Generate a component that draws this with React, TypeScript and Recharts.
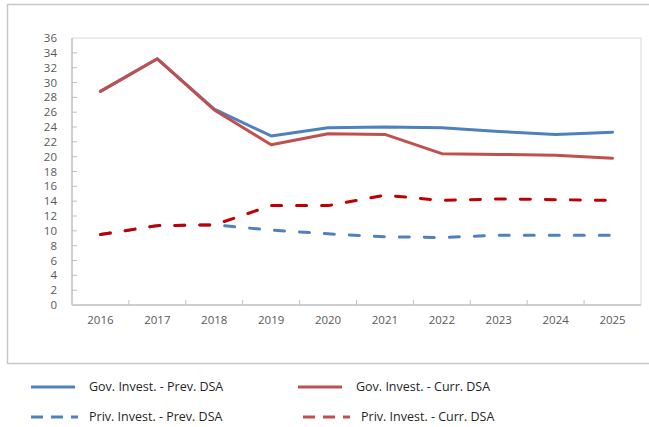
import React from "react";
import { LineChart, Line, XAxis, YAxis, ReferenceLine } from "recharts";

const years = [2016, 2017, 2018, 2019, 2020, 2021, 2022, 2023, 2024, 2025];
const govPrev = [28.8, 33.2, 26.4, 22.8, 23.9, 24.0, 23.9, 23.4, 23.0, 23.3];
const govCurr = [28.8, 33.2, 26.3, 21.6, 23.1, 23.0, 20.4, 20.3, 20.2, 19.8];
const privPrev = [9.5, 10.7, 10.8, 10.1, 9.6, 9.2, 9.1, 9.4, 9.4, 9.4];
const privCurr = [9.5, 10.7, 10.8, 13.4, 13.4, 14.8, 14.1, 14.3, 14.2, 14.1];
const yTicks = [0, 2, 4, 6, 8, 10, 12, 14, 16, 18, 20, 22, 24, 26, 28, 30, 32, 34, 36];

// tick marks sit between the years, labels on the years
const xTicks = years.flatMap((y, i) => (i < years.length - 1 ? [y, y + 0.5] : [y]));

const series = [
  { key: "govPrev", name: "Gov. Invest. - Prev. DSA", color: "#4F81BD", dash: undefined, legendColor: "#4F81BD" },
  { key: "privPrev", name: "Priv. Invest. - Prev. DSA", color: "#4F81BD", dash: "10 15", legendColor: "#4F81BD" },
  { key: "govCurr", name: "Gov. Invest. - Curr. DSA", color: "#C0504D", dash: undefined, legendColor: "#C0504D" },
  { key: "privCurr", name: "Priv. Invest. - Curr. DSA", color: "#C00000", dash: "10 15", legendColor: "#C0504D" },
];

const data = years.map((year, i) => ({
  year,
  govPrev: govPrev[i],
  govCurr: govCurr[i],
  privPrev: privPrev[i],
  privCurr: privCurr[i],
}));

const FONT = "'Open Sans', sans-serif";
const AXIS = "#bfbfbf";
const LABEL = "#595959";

function XTick(props: any) {
  const { x, y, payload } = props;
  const v = payload.value;
  const axisY = y - 12;
  if (!Number.isInteger(v)) {
    return <line x1={x} x2={x} y1={axisY - 5} y2={axisY} stroke={AXIS} />;
  }
  return (
    <text x={x} y={axisY + 15} dy="0.35em" textAnchor="middle" fill={LABEL} fontSize={11.5} fontFamily={FONT}>
      {v}
    </text>
  );
}

function YTick(props: any) {
  const { x, y, payload } = props;
  const axisX = x + 15;
  return (
    <g>
      {payload.value > 0 && payload.value < 36 && (
        <line x1={axisX} x2={axisX + 5} y1={y} y2={y} stroke={AXIS} />
      )}
      <text x={x} y={y} dy="0.35em" textAnchor="end" fill={LABEL} fontSize={11.5} fontFamily={FONT}>
        {payload.value}
      </text>
    </g>
  );
}

function LegendRow({ s, left }: { s: (typeof series)[number]; left: number }) {
  return (
    <div style={{ position: "absolute", left, display: "flex", alignItems: "center" }}>
      <svg width={58} height={6} style={{ display: "block" }}>
        <line
          x1={0}
          x2={s.dash ? 47 : 44}
          y1={3}
          y2={3}
          stroke={s.legendColor}
          strokeWidth={3}
          strokeDasharray={s.dash ? "12 8" : undefined}
        />
      </svg>
      <span style={{ fontFamily: FONT, fontSize: 12.5, color: "#262626", whiteSpace: "nowrap" }}>{s.name}</span>
    </div>
  );
}

export default function App() {
  return (
    <div style={{ position: "absolute", left: 0, top: 0, width: 649, height: 427, overflow: "hidden", background: "#fff" }}>
      <svg width={649} height={427} style={{ position: "absolute", left: 0, top: 0 }}>
        <rect x={7.5} y={4.5} width={700} height={359} fill="none" stroke="#c8c8c8" strokeWidth={1.5} />
      </svg>
      <div style={{ position: "absolute", left: 0, top: 0 }}>
        <LineChart width={649} height={370} data={data} margin={{ top: 38, right: 8, left: 32, bottom: 35 }}>
          <XAxis
            dataKey="year"
            type="number"
            domain={[2015.5, 2025.5]}
            ticks={xTicks}
            interval={0}
            tickLine={false}
            tickSize={0}
            tickMargin={12}
            height={30}
            axisLine={{ stroke: AXIS, strokeWidth: 1.5 }}
            tick={<XTick />}
          />
          <YAxis
            type="number"
            domain={[0, 36]}
            ticks={yTicks}
            interval={0}
            tickLine={false}
            tickSize={0}
            tickMargin={15}
            width={40}
            axisLine={{ stroke: AXIS, strokeWidth: 1.5 }}
            tick={<YTick />}
          />
          <ReferenceLine y={36} stroke="#d9d9d9" />
          <ReferenceLine x={2025.5} stroke="#d9d9d9" />
          {series.map((s) => (
            <Line
              key={s.key}
              dataKey={s.key}
              name={s.name}
              type="linear"
              stroke={s.color}
              strokeWidth={3}
              strokeDasharray={s.dash}
              strokeLinecap="round"
              strokeLinejoin="round"
              dot={false}
              activeDot={false}
              isAnimationActive={false}
            />
          ))}
        </LineChart>
      </div>
      <div style={{ position: "absolute", left: 0, top: 378, width: 649, height: 18 }}>
        <LegendRow s={series[0]} left={31} />
        <LegendRow s={series[2]} left={298} />
      </div>
      <div style={{ position: "absolute", left: 0, top: 408, width: 649, height: 18 }}>
        <LegendRow s={series[1]} left={31} />
        <LegendRow s={series[3]} left={303} />
      </div>
    </div>
  );
}
